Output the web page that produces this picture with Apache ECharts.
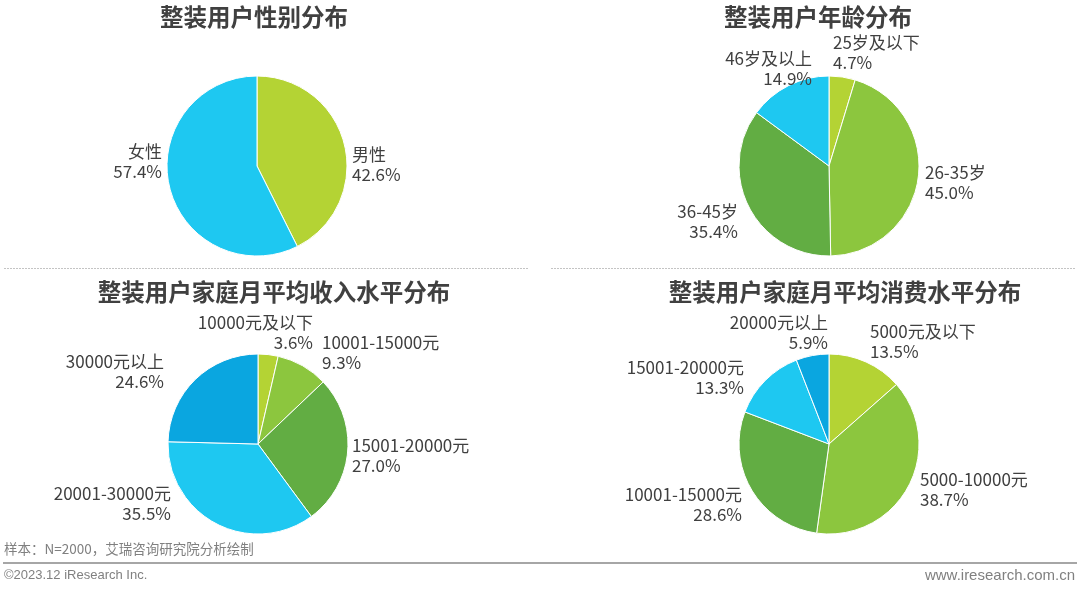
<!DOCTYPE html>
<html>
<head>
<meta charset="utf-8">
<script src="https://cdn.jsdelivr.net/npm/echarts@6/dist/echarts.min.js"></script>
<style>
html,body{margin:0;padding:0;background:#fff;}
#main{width:1080px;height:592px;}
</style>
</head>
<body>
<div id="main"></div>
<script>
// ---- data ----
var titles = ['整装用户性别分布', '整装用户年龄分布', '整装用户家庭月平均收入水平分布', '整装用户家庭月平均消费水平分布'];
var genderNames = ['男性', '女性'];
var genderValues = [42.6, 57.4];
var ageNames = ['25岁及以下', '26-35岁', '36-45岁', '46岁及以上'];
var ageValues = [4.7, 45.0, 35.4, 14.9];
var incomeNames = ['10000元及以下', '10001-15000元', '15001-20000元', '20001-30000元', '30000元以上'];
var incomeValues = [3.6, 9.3, 27.0, 35.5, 24.6];
var spendNames = ['5000元及以下', '5000-10000元', '10001-15000元', '15001-20000元', '20000元以上'];
var spendValues = [13.5, 38.7, 28.6, 13.3, 5.9];
var sourceNote = '样本：N=2000，艾瑞咨询研究院分析绘制';
var copyright = '©2023.12 iResearch Inc.';
var website = 'www.iresearch.com.cn';

// ---- styles / layout ----
var FONT = '"Noto Sans CJK SC", "Noto Sans", sans-serif';
var TXT = '#404040';
var palettes = {
  gender: ['#b4d334', '#1ec8f1'],
  age: ['#b4d334', '#8cc63e', '#62ad43', '#1ec8f1'],
  five: ['#b4d334', '#8cc63e', '#62ad43', '#1ec8f1', '#0aa6e0']
};
// label placement relative to each pie centre: [dx, dy, align]
var labelPlace = {
  gender: [[95, -1, 'left'], [-95, -4, 'right']],
  age: [[4, -113, 'left'], [96, 17, 'left'], [-91, 56, 'right'], [-17, -97, 'right']],
  income: [[55, -111, 'right'], [64, -91, 'left'], [94, 12, 'left'], [-87, 60, 'right'], [-94, -72, 'right']],
  spend: [[41, -102, 'left'], [91, 46, 'left'], [-87, 61, 'right'], [-85, -66, 'right'], [-1, -111, 'right']]
};

function toData(names, values, colors) {
  return names.map(function (n, i) {
    return { name: n, value: values[i], itemStyle: { color: colors[i] } };
  });
}

function pieSeries(names, values, colors, center, place) {
  return {
    type: 'pie',
    radius: 90,
    center: center,
    startAngle: 90,
    clockwise: true,
    avoidLabelOverlap: false,
    silent: true,
    itemStyle: { borderColor: '#fff', borderWidth: 1 },
    label: {
      show: true,
      position: 'outside',
      color: TXT,
      fontSize: 17,
      lineHeight: 20,
      fontFamily: FONT,
      formatter: function (p) { return p.name + '\n' + p.value.toFixed(1) + '%'; }
    },
    labelLine: { show: false, length: 4, length2: 0 },
    labelLayout: function (p) {
      var pl = place[p.dataIndex];
      return {
        x: center[0] + pl[0],
        y: center[1] + pl[1],
        align: pl[2],
        verticalAlign: 'middle',
        hideOverlap: false,
        moveOverlap: false
      };
    },
    data: toData(names, values, colors)
  };
}

var chart = echarts.init(document.getElementById('main'));

var titleFont = 'bold 23.5px ' + FONT;
var graphics = [
  { type: 'text', x: 254, y: 5, style: { text: titles[0], font: titleFont, fill: TXT, textAlign: 'center' } },
  { type: 'text', x: 818, y: 5, style: { text: titles[1], font: titleFont, fill: TXT, textAlign: 'center' } },
  { type: 'text', x: 274, y: 280, style: { text: titles[2], font: titleFont, fill: TXT, textAlign: 'center' } },
  { type: 'text', x: 845, y: 280, style: { text: titles[3], font: titleFont, fill: TXT, textAlign: 'center' } },
  { type: 'line', shape: { x1: 4, y1: 268.5, x2: 529, y2: 268.5 }, style: { stroke: '#c4c4c4', lineWidth: 1, lineDash: [2, 1] } },
  { type: 'line', shape: { x1: 551, y1: 268.5, x2: 1075, y2: 268.5 }, style: { stroke: '#c4c4c4', lineWidth: 1, lineDash: [2, 1] } },
  { type: 'text', x: 4, y: 542, style: { text: sourceNote, font: '13.5px ' + FONT, fill: '#808080' } },
  { type: 'line', shape: { x1: 3, y1: 563, x2: 1077, y2: 563 }, style: { stroke: '#a6a6a6', lineWidth: 2 } },
  { type: 'text', x: 4, y: 569, style: { text: copyright, font: '13px Arial, "Liberation Sans", sans-serif', fill: '#808080' } },
  { type: 'text', x: 1075, y: 568, style: { text: website, font: '15px Arial, "Liberation Sans", sans-serif', fill: '#808080', textAlign: 'right' } }
];

chart.setOption({
  animation: false,
  backgroundColor: '#fff',
  graphic: graphics,
  series: [
    pieSeries(genderNames, genderValues, palettes.gender, [257, 166], labelPlace.gender),
    pieSeries(ageNames, ageValues, palettes.age, [829, 166], labelPlace.age),
    pieSeries(incomeNames, incomeValues, palettes.five, [258, 444], labelPlace.income),
    pieSeries(spendNames, spendValues, palettes.five, [829, 444], labelPlace.spend)
  ]
});
</script>
</body>
</html>
